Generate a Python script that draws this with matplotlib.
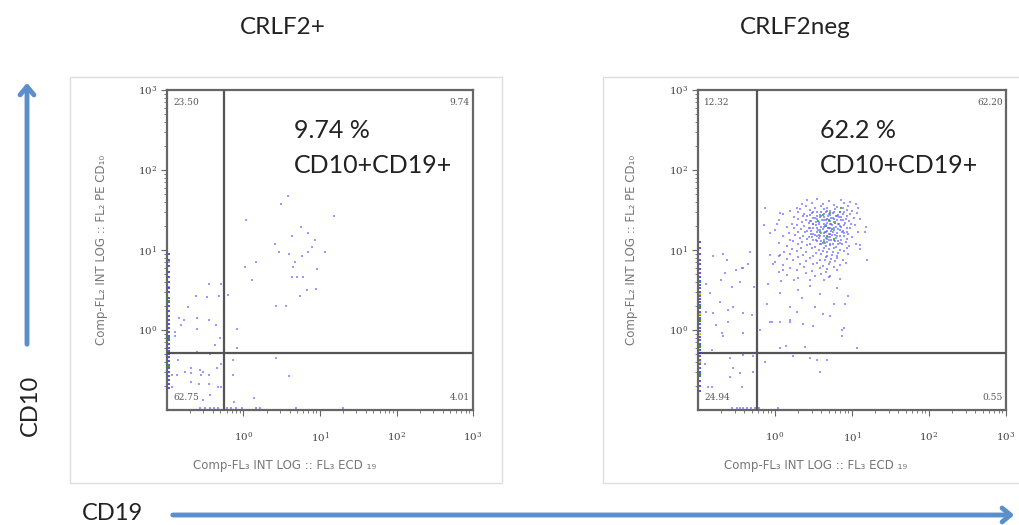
import matplotlib
matplotlib.use('Agg')
import matplotlib.pyplot as plt
import numpy as np
from matplotlib.patches import Rectangle, FancyArrowPatch
from matplotlib.ticker import LogLocator, LogFormatterSciNotation, NullFormatter

plt.rcParams['font.family'] = ['Lato', 'DejaVu Sans']

# ---- data (events, stored as log10 of intensity) ----
titles = ['CRLF2+', 'CRLF2neg']
quadrant_pct = [['23.50', '9.74', '62.75', '4.01'],
                ['12.32', '62.20', '24.94', '0.55']]
headline = ['9.74 %', '62.2 %']
gate_cd19 = [0.56, 0.58]
gate_cd10 = [0.52, 0.52]

# CRLF2+ : scattered events
left_cd19_log = [0.58, 0.49, 1.18, 0.03, 0.64, 0.75, 0.84, 0.41, 0.46, 0.60,
                 0.67, 0.77, 0.84, 0.90, 0.94, 1.06, 0.65, 0.96, 0.63, 0.70,
                 0.78, 0.83, 0.95, 0.74, 0.43, 0.55, 0.02, 0.16, 0.11, 0.43,
                 0.59, -0.20, -0.09, -0.09, -0.14, -0.14, -0.12, 0.14,
                 -0.45, -0.30, -0.62, -0.48, -0.32, -0.73, -0.84, -0.78, -0.61, -0.45,
                 -0.36, -0.82, -0.61, -0.90, -0.90, -0.31, -0.37, -0.61, -0.44, -0.97,
                 -0.97,
                 -0.85, -0.77, -0.68, -0.68, -0.57, -0.53, -0.55, -0.45, -0.35, -0.93,
                 -0.87, -0.94, -0.68, -0.58, -0.45, -0.33, -0.29, -0.44, -0.53, -0.30]
left_cd10_log = [1.67, 1.58, 1.43, 1.38, 1.17, 1.29, 1.21, 1.08, 0.98, 0.95,
                 0.85, 0.92, 0.98, 1.04, 1.12, 0.98, 0.79, 0.76, 0.66, 0.66,
                 0.66, 0.50, 0.51, 0.42, 0.30, 0.30, 0.79, 0.85, 0.63, -0.35,
                 -0.58, 0.44, 0.01, -0.22, -0.38, -0.56, -0.90, -0.85,
                 0.58, 0.58, 0.43, 0.41, 0.43, 0.29, 0.15, 0.13, 0.15, 0.13,
                 0.06, 0.06, 0.01, -0.02, -0.08, -0.10, -0.19, -0.27, -0.30, 0.85,
                 0.54,
                 -0.37, -0.52, -0.48, -0.54, -0.50, -0.53, -0.56, -0.56, -0.48, -0.56,
                 -0.56, -0.71, -0.65, -0.67, -0.67, -0.71, -0.71, -0.81, -0.87, -0.42]
# events piled on the CD19 floor / CD10 wall
left_floor_cd19_log = [-0.57, -0.50, -0.44, -0.38, -0.33, -0.22, -0.16, -0.10, -0.02, 0.16, 0.21, 0.69, 1.30]
left_wall_cd10_log = [0.95, 0.88, 0.80, 0.72, 0.66, 0.60, 0.52, 0.47, 0.40, 0.35, 0.30, 0.24,
                      0.18, 0.12, 0.07, 0.02, -0.03, -0.08, -0.12, -0.17, -0.22, -0.26,
                      -0.30, -0.34, -0.39, -0.44, -0.48, -0.52, -0.57, -0.62, -0.67, -0.72]
left_wall_green = [0.36, -0.10, -0.45]

# CRLF2neg : main CD10+CD19+ cluster
right_cluster_cd19_log = [
    0.42, 0.55, 0.70, 0.86, 0.98,
    0.35, 0.48, 0.62, 0.76, 0.90, 1.05,
    0.28, 0.40, 0.52, 0.60, 0.68, 0.80, 0.88, 0.95, 1.08,
    0.20, 0.33, 0.45, 0.55, 0.63, 0.72, 0.78, 0.85, 0.93, 1.00,
    0.10, 0.30, 0.38, 0.48, 0.58, 0.66, 0.70, 0.75, 0.82, 0.90, 0.97, 1.06,
    0.25, 0.36, 0.42, 0.52, 0.60, 0.64, 0.69, 0.73, 0.79, 0.86, 0.94, 1.02,
    0.05, 0.30, 0.40, 0.47, 0.55, 0.61, 0.66, 0.71, 0.76, 0.80, 0.88, 0.96, 1.10,
    0.22, 0.35, 0.44, 0.50, 0.57, 0.63, 0.68, 0.72, 0.77, 0.83, 0.91, 0.99,
    0.15, 0.28, 0.38, 0.46, 0.53, 0.60, 0.65, 0.69, 0.74, 0.79, 0.85, 0.93, 1.04, 1.18,
    0.00, 0.25, 0.34, 0.42, 0.50, 0.56, 0.62, 0.67, 0.71, 0.76, 0.82, 0.88, 0.97,
    0.18, 0.30, 0.39, 0.47, 0.54, 0.60, 0.66, 0.70, 0.75, 0.80, 0.87, 0.95, 1.08,
    0.10, 0.26, 0.36, 0.44, 0.52, 0.58, 0.64, 0.69, 0.74, 0.81, 0.90, 1.00,
    0.20, 0.32, 0.42, 0.50, 0.57, 0.63, 0.68, 0.73, 0.79, 0.86, 0.94,
    0.05, 0.24, 0.35, 0.46, 0.55, 0.62, 0.67, 0.72, 0.78, 0.84, 0.92, 1.05,
    0.15, 0.30, 0.41, 0.52, 0.60, 0.66, 0.72, 0.79, 0.87, 0.96,
    0.22, 0.34, 0.48, 0.57, 0.64, 0.70, 0.76, 0.84, 0.93, 1.10,
    0.12, 0.28, 0.40, 0.53, 0.62, 0.68, 0.75, 0.82, 0.90,
    0.05, 0.20, 0.36, 0.50, 0.60, 0.67, 0.74, 0.81, 0.95,
    0.15, 0.30, 0.45, 0.58, 0.66, 0.73, 0.80, 0.88,
    0.00, 0.24, 0.40, 0.55, 0.65, 0.72, 0.78, 0.92,
    0.10, 0.32, 0.50, 0.62, 0.70, 0.84,
    0.20, 0.38, 0.58, 0.68, 0.76,
    0.05, 0.28, 0.48, 0.66, 0.80,
    0.15, 0.40, 0.60, 0.72,
    0.30, 0.52, 0.70, 0.85,
    0.08, 0.45, 0.64,
    # dense core
    0.50, 0.60, 0.68, 0.76, 0.84,
    0.46, 0.55, 0.63, 0.72, 0.80, 0.88,
    0.50, 0.58, 0.67, 0.75, 0.83, 0.92,
    0.45, 0.53, 0.63, 0.70, 0.78, 0.86,
    0.49, 0.57, 0.66, 0.73, 0.82, 0.90,
    0.44, 0.54, 0.63, 0.70, 0.77, 0.86,
    0.47, 0.58, 0.65, 0.73, 0.84, 0.93,
    0.50, 0.57, 0.63, 0.72, 0.78, 0.90,
    0.48, 0.55, 0.66, 0.72, 0.84,
    0.53, 0.60, 0.70, 0.76, 0.82,
    0.58, 0.65, 0.75, 0.82]
right_cluster_cd10_log = [
    1.62, 1.64, 1.61, 1.63, 1.60,
    1.57, 1.59, 1.58, 1.56, 1.59, 1.57,
    1.53, 1.55, 1.52, 1.55, 1.53, 1.54, 1.52, 1.55, 1.53,
    1.49, 1.51, 1.50, 1.48, 1.51, 1.49, 1.51, 1.48, 1.50, 1.49,
    1.45, 1.47, 1.45, 1.46, 1.44, 1.47, 1.45, 1.46, 1.44, 1.47, 1.45, 1.46,
    1.41, 1.43, 1.42, 1.40, 1.43, 1.41, 1.42, 1.40, 1.43, 1.41, 1.42, 1.40,
    1.37, 1.39, 1.38, 1.36, 1.39, 1.37, 1.38, 1.36, 1.39, 1.37, 1.38, 1.36, 1.39,
    1.33, 1.35, 1.34, 1.32, 1.35, 1.33, 1.34, 1.32, 1.35, 1.33, 1.34, 1.32,
    1.29, 1.31, 1.30, 1.28, 1.31, 1.29, 1.30, 1.28, 1.31, 1.29, 1.30, 1.28, 1.31, 1.29,
    1.25, 1.27, 1.26, 1.24, 1.27, 1.25, 1.26, 1.24, 1.27, 1.25, 1.26, 1.24, 1.27,
    1.21, 1.23, 1.22, 1.20, 1.23, 1.21, 1.22, 1.20, 1.23, 1.21, 1.22, 1.20, 1.23,
    1.17, 1.19, 1.18, 1.16, 1.19, 1.17, 1.18, 1.16, 1.19, 1.17, 1.18, 1.16,
    1.13, 1.15, 1.14, 1.12, 1.15, 1.13, 1.14, 1.12, 1.15, 1.13, 1.14,
    1.09, 1.11, 1.10, 1.08, 1.11, 1.09, 1.10, 1.08, 1.11, 1.09, 1.10, 1.08,
    1.05, 1.07, 1.06, 1.04, 1.07, 1.05, 1.06, 1.04, 1.07, 1.05,
    1.01, 1.03, 1.02, 1.00, 1.03, 1.01, 1.02, 1.00, 1.03, 1.01,
    0.97, 0.99, 0.98, 0.96, 0.99, 0.97, 0.98, 0.96, 0.99,
    0.93, 0.95, 0.94, 0.92, 0.95, 0.93, 0.94, 0.92, 0.95,
    0.89, 0.91, 0.90, 0.88, 0.91, 0.89, 0.90, 0.88,
    0.85, 0.87, 0.86, 0.84, 0.87, 0.85, 0.86, 0.84,
    0.81, 0.83, 0.82, 0.80, 0.83, 0.81,
    0.77, 0.79, 0.78, 0.76, 0.79,
    0.73, 0.75, 0.74, 0.72, 0.75,
    0.69, 0.71, 0.70, 0.68,
    0.65, 0.67, 0.66, 0.64,
    0.61, 0.63, 0.62,
    # dense core
    1.48, 1.47, 1.49, 1.48, 1.47,
    1.44, 1.43, 1.45, 1.44, 1.43, 1.45,
    1.40, 1.41, 1.39, 1.40, 1.41, 1.39,
    1.36, 1.35, 1.37, 1.36, 1.35, 1.37,
    1.32, 1.33, 1.31, 1.32, 1.33, 1.31,
    1.28, 1.27, 1.29, 1.28, 1.27, 1.29,
    1.24, 1.25, 1.23, 1.24, 1.25, 1.23,
    1.20, 1.19, 1.21, 1.20, 1.19, 1.21,
    1.16, 1.17, 1.15, 1.16, 1.17,
    1.12, 1.11, 1.13, 1.12, 1.11,
    1.08, 1.09, 1.07, 1.08]
right_green_cd19_log = [0.62, 0.70, 0.66, 0.74, 0.58, 0.68, 0.78, 0.72, 0.64, 0.76, 0.86, 0.56]
right_green_cd10_log = [1.44, 1.38, 1.30, 1.26, 1.22, 1.18, 1.34, 1.46, 1.10, 1.14, 1.52, 1.36]

# CRLF2neg : scattered events outside the cluster
right_cd19_log = [-0.13, 0.07, 0.02, -0.07, -0.14, 0.07, -0.07, -0.02, 0.11, -0.09,
                  0.07, 0.30, 0.19, 0.52, -0.04, 0.19, 0.37, 0.71, 0.89, 0.87,
                  1.17, 1.19, 1.10, -0.07, 0.07, 0.19, -0.20, 0.39, 0.14, 0.07,
                  0.87, 1.07, 0.76, 0.91,
                  0.25, 0.35, 0.45, 0.58, 0.80, 0.95, 0.28, -0.10, 0.50, 0.62,
                  -0.13, 0.45, 0.54, 0.67, 0.58, 0.23,
                  -0.67, -0.65, -0.70, -0.56, -0.46, -0.43, -0.35, -0.50, -0.90, -0.84,
                  -0.71, -0.61, -0.54, -0.41, -0.30, -0.76, -0.69, -0.67, -0.89, -0.81,
                  -0.27, -0.41, -0.61, -0.80, -0.33, -0.41, -0.62,
                  -0.82, -0.42, -0.58, -0.55, -0.46, -0.59, -0.87, -0.82, -0.43, -0.28,
                  -0.28, -0.91]
right_cd10_log = [1.52, 1.46, 1.33, 1.21, 1.31, 0.94, 0.94, 0.83, 0.75, 0.58,
                  0.46, 0.50, 0.29, 0.29, 0.10, 0.10, 0.08, 0.17, 0.02, -0.08,
                  1.23, 0.88, 1.06, 0.10, 0.10, 0.12, 0.00, -0.21, -0.20, -0.23,
                  0.00, -0.23, 0.33, 0.33,
                  0.62, 0.40, 0.55, 0.45, 0.52, 0.42, 0.22, 0.32, 0.05, 0.20,
                  -0.40, -0.35, -0.37, -0.38, -0.52, -0.33,
                  0.95, 0.71, 0.63, 0.54, 0.60, 0.77, 0.83, 0.75, 0.58, 0.46,
                  0.35, 0.25, 0.29, 0.21, 0.19, 0.06, -0.04, -0.08, 0.23, 0.21,
                  0.54, -0.04, 0.10, 0.92, 0.98, 0.78, 0.88,
                  -0.25, -0.31, -0.35, -0.48, -0.54, -0.59, -0.71, -0.71, -0.71, -0.52,
                  -0.33, -0.42]
right_floor_cd19_log = [-0.56, -0.49, -0.46, -0.41, -0.36, -0.31, -0.26, -0.21, 0.04]
right_wall_cd10_log = [1.10, 1.02, 0.95, 0.88, 0.82, 0.76, 0.71, 0.66, 0.61, 0.56,
                       0.52, 0.47, 0.43, 0.39, 0.35, 0.31, 0.27, 0.23, 0.19, 0.15,
                       0.11, 0.07, 0.03, -0.01, -0.05, -0.09, -0.13, -0.17, -0.21, -0.25,
                       -0.29, -0.33, -0.37, -0.42, -0.47, -0.52, -0.58, -0.64, -0.70, -0.76]
right_wall_green = [0.60, 0.30, 0.12, -0.20, -0.55]
right_wall_yellow = [0.45, -0.05, -0.40, 0.20]

BLUE = '#5555ff'
W, H = 1020, 525
WALL_X = 0.106   # events stacked against the lower end of the scale

fig = plt.figure(figsize=(W / 100, H / 100), dpi=100)


def fx(px):
    return px / W


def fy(py):
    return 1 - py / H


def draw_panel(ax, k, cd19, cd10, floor, wall, wall_green, extra=None):
    kw = dict(marker='s', s=3.5, linewidths=0, clip_on=False, zorder=2)
    ax.scatter(10 ** np.array(cd19), 10 ** np.array(cd10), color=BLUE, alpha=0.6, **kw)
    if extra is not None:
        for (ex, ey, col, a) in extra:
            ax.scatter(10 ** np.array(ex), 10 ** np.array(ey), color=col, alpha=a, **kw)
    ax.scatter(10 ** np.array(floor), np.full(len(floor), 0.106), color=BLUE, alpha=0.6, **kw)
    wkw = dict(marker='s', s=3, linewidths=0, zorder=4)
    ax.scatter(np.full(len(wall), WALL_X), 10 ** np.array(wall), color='#3030e0', alpha=0.8, **wkw)
    ax.scatter(np.full(len(wall_green), WALL_X), 10 ** np.array(wall_green), color='#22aa22', **wkw)

    ax.set_xscale('log')
    ax.set_yscale('log')
    ax.set_xlim(0.1, 1000)
    ax.set_ylim(0.1, 1000)
    ax.axvline(gate_cd19[k], color='#555555', lw=1.6, zorder=3)
    ax.axhline(gate_cd10[k], color='#555555', lw=1.6, zorder=3)

    for s in ax.spines.values():
        s.set_color('#666666')
        s.set_linewidth(1.6)
    for axis in (ax.xaxis, ax.yaxis):
        axis.set_minor_locator(LogLocator(base=10, subs=np.arange(2, 10), numticks=10))
        axis.set_major_formatter(LogFormatterSciNotation())
        axis.set_minor_formatter(NullFormatter())
    ax.set_xticks([1, 10, 100, 1000])
    ax.set_yticks([1, 10, 100, 1000])
    ax.tick_params(which='both', direction='out', colors='#666666', labelsize=7.5,
                   labelcolor='#444444', top=False, right=False)
    ax.tick_params(which='major', length=4, width=0.8)
    ax.tick_params(which='minor', length=2.5, width=0.6)
    ax.tick_params(axis='x', pad=11)
    ax.tick_params(axis='y', pad=3)
    for lab in ax.get_xticklabels() + ax.get_yticklabels():
        lab.set_family('DejaVu Serif')

    ax.text(0.383, -0.172, 'Comp-FL\u2083 INT LOG :: FL\u2083 ECD \u2081\u2089', transform=ax.transAxes,
            ha='center', va='center', fontsize=8.5, color='#777777', family='DejaVu Sans')
    ax.text(-0.215, 0.5, 'Comp-FL\u2082 INT LOG :: FL\u2082 PE CD\u2081\u2080', transform=ax.transAxes,
            ha='center', va='center', rotation=90, fontsize=8.5, color='#777777', family='DejaVu Sans')

    q = quadrant_pct[k]
    qkw = dict(transform=ax.transAxes, fontsize=6.5, color='#555555', family='DejaVu Serif')
    ax.text(0.02, 0.975, q[0], ha='left', va='top', **qkw)
    ax.text(0.99, 0.975, q[1], ha='right', va='top', **qkw)
    ax.text(0.02, 0.025, q[2], ha='left', va='bottom', **qkw)
    ax.text(0.99, 0.025, q[3], ha='right', va='bottom', **qkw)

    tx = 0.415 if k == 0 else 0.396
    ax.text(tx, 0.85, headline[k], transform=ax.transAxes, ha='left', va='baseline',
            fontsize=18, color='#222222')
    ax.text(tx, 0.74, 'CD10+CD19+', transform=ax.transAxes, ha='left', va='baseline',
            fontsize=18, color='#222222')


ax1 = fig.add_axes([fx(167), fy(410), fx(306), 320 / H])
ax2 = fig.add_axes([fx(698), fy(410), fx(308), 320 / H])

draw_panel(ax1, 0, left_cd19_log, left_cd10_log, left_floor_cd19_log,
           left_wall_cd10_log, left_wall_green)
draw_panel(ax2, 1, right_cd19_log + right_cluster_cd19_log, right_cd10_log + right_cluster_cd10_log,
           right_floor_cd19_log, right_wall_cd10_log, right_wall_green,
           extra=[(right_green_cd19_log, right_green_cd10_log, '#33bb33', 0.9)])
ax2.scatter(np.full(len(right_wall_yellow), WALL_X), 10 ** np.array(right_wall_yellow),
            color='#c8c800', marker='s', s=3, linewidths=0, zorder=4)

# panel frames
fig.patches.append(Rectangle((fx(70), fy(483)), fx(432), 406 / H, transform=fig.transFigure,
                             fill=False, ec='#dddddd', lw=1))
fig.patches.append(Rectangle((fx(603), fy(483)), fx(430), 406 / H, transform=fig.transFigure,
                             fill=False, ec='#dddddd', lw=1))

# titles
fig.text(fx(283), fy(28), titles[0], ha='center', va='center', fontsize=17.5, color='#222222')
fig.text(fx(795), fy(28), titles[1], ha='center', va='center', fontsize=17.5, color='#222222')

# direction arrows
arrow_col = '#5b8fcb'
fig.add_artist(FancyArrowPatch(
    (fx(27), fy(347)), (fx(27), fy(80)), transform=fig.transFigure,
    arrowstyle='->,head_length=6,head_width=5', color=arrow_col, lw=3.5))
fig.add_artist(FancyArrowPatch(
    (fx(170), fy(515)), (fx(1017), fy(515)), transform=fig.transFigure,
    arrowstyle='->,head_length=6,head_width=5', color=arrow_col, lw=3.5))
fig.text(fx(30), fy(405), 'CD10', rotation=90, ha='center', va='center', fontsize=17, color='#222222')
fig.text(fx(113), fy(514), 'CD19', ha='center', va='center', fontsize=17, color='#222222')

fig.savefig('out.png', dpi=100)
plt.close()
